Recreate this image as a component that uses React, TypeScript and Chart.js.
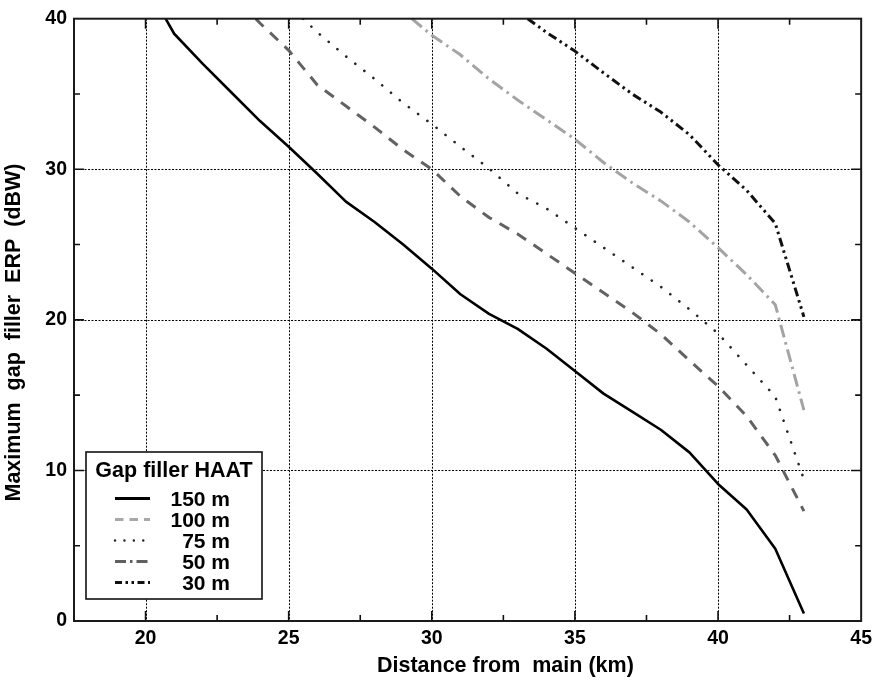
import React, { useEffect, useRef } from 'react';
import { Chart, registerables } from 'chart.js';

Chart.register(...registerables);

// ---- data ----
const seriesLabels = ['150 m', '100 m', '75 m', '50 m', '30 m'];

const dist150 = [20.7, 21, 22, 23, 24, 25, 26, 27, 28, 29, 30, 31, 32, 33, 34, 35, 36, 37, 38, 39, 40, 41, 42, 43];
const erp150 = [40, 39.0, 37.0, 35.1, 33.2, 31.5, 29.7, 27.85, 26.5, 25.0, 23.4, 21.7, 20.4, 19.4, 18.1, 16.6, 15.1, 13.9, 12.7, 11.2, 9.1, 7.4, 4.8, 0.5];

const dist100 = [23.85, 24, 25, 26, 27, 28, 29, 30, 31, 32, 33, 34, 35, 36, 37, 38, 39, 40, 41, 42, 43];
const erp100 = [40, 39.7, 37.9, 35.6, 34.2, 32.8, 31.3, 30.0, 28.2, 26.8, 25.7, 24.4, 23.1, 21.8, 20.5, 19.05, 17.3, 15.6, 13.6, 11.0, 7.3];

const dist75 = [25.5, 26, 27, 28, 29, 30, 31, 32, 33, 34, 35, 36, 37, 38, 39, 40, 41, 42, 43];
const erp75 = [40, 39.1, 37.5, 36.0, 34.4, 33.0, 31.5, 30.05, 28.4, 27.4, 26.1, 24.8, 23.5, 22.2, 20.7, 19.1, 17.0, 14.9, 9.4];

const dist50 = [29.3, 30, 31, 32, 33, 34, 35, 36, 37, 38, 39, 40, 41, 42, 43];
const erp50 = [40, 38.9, 37.6, 36.0, 34.6, 33.3, 32.0, 30.45, 29.1, 27.9, 26.5, 24.8, 23.0, 21.0, 14.0];

const dist30 = [33.35, 34, 35, 36, 37, 38, 39, 40, 41, 42, 43];
const erp30 = [40, 39.1, 37.85, 36.4, 35.0, 33.8, 32.3, 30.3, 28.6, 26.4, 20.2];

const xTickValues = [20, 25, 30, 35, 40, 45];
const yTickValues = [0, 10, 20, 30, 40];
const xGridValues = [20, 25, 30, 35, 40];
const yGridValues = [10, 20, 30];
const xMinorTicks = [22.5, 27.5, 32.5, 37.5, 42.5];
const yMinorTicks = [5, 15, 25, 35];

const xTitle = 'Distance from  main (km)';
const yTitle = 'Maximum  gap  filler  ERP  (dBW)';
const legendTitle = 'Gap filler HAAT';

// ---- styles ----
const FONT = "'Liberation Sans', Arial, Helvetica, sans-serif";

const seriesStyles = [
  { color: '#000000', width: 2.6, dash: [] as number[], cap: 'butt' },
  { color: '#626262', width: 3, dash: [11, 9], cap: 'butt' },
  { color: '#262626', width: 2.6, dash: [0.1, 11.4], cap: 'round' },
  { color: '#a4a4a4', width: 3, dash: [13, 5, 2.5, 5], cap: 'butt' },
  { color: '#111111', width: 3, dash: [9, 4, 2.5, 4, 2.5, 4], cap: 'butt' },
];

// legend samples as they appear in the reference key
const legendStyles = [
  { color: '#000000', width: 3, dash: [] as number[], cap: 'butt' },
  { color: '#a8a8a8', width: 3, dash: [8.5, 6], cap: 'butt' },
  { color: '#262626', width: 2.4, dash: [0.1, 9.3], cap: 'round' },
  { color: '#606060', width: 3, dash: [11, 4, 2.5, 4], cap: 'butt' },
  { color: '#111111', width: 3, dash: [7, 3.5, 2.5, 3.5, 2.5, 3.5], cap: 'butt' },
];

const allDist = [dist150, dist100, dist75, dist50, dist30];
const allErp = [erp150, erp100, erp75, erp50, erp30];

const gridPlugin = {
  id: 'customGrid',
  beforeDatasetsDraw(chart: any) {
    const { ctx, chartArea } = chart;
    const xs = chart.scales.x;
    const ys = chart.scales.y;
    ctx.save();
    ctx.strokeStyle = '#000';
    ctx.lineWidth = 1;
    ctx.setLineDash([2, 1.5]);
    xGridValues.forEach((v) => {
      const px = Math.round(xs.getPixelForValue(v)) + 0.5;
      ctx.beginPath();
      ctx.moveTo(px, chartArea.top);
      ctx.lineTo(px, chartArea.bottom);
      ctx.stroke();
    });
    yGridValues.forEach((v) => {
      const py = Math.round(ys.getPixelForValue(v)) + 0.5;
      ctx.beginPath();
      ctx.moveTo(chartArea.left, py);
      ctx.lineTo(chartArea.right, py);
      ctx.stroke();
    });
    ctx.restore();
  },
  afterDatasetsDraw(chart: any) {
    const { ctx, chartArea } = chart;
    const xs = chart.scales.x;
    const ys = chart.scales.y;
    const { left, right, top, bottom } = chartArea;
    ctx.save();
    ctx.setLineDash([]);
    ctx.strokeStyle = '#111';
    ctx.lineWidth = 1.6;
    const major = 10;
    const minor = 6;
    const tickX = (v: number, len: number) => {
      const px = xs.getPixelForValue(v);
      ctx.beginPath();
      ctx.moveTo(px, bottom);
      ctx.lineTo(px, bottom - len);
      ctx.moveTo(px, top);
      ctx.lineTo(px, top + len);
      ctx.stroke();
    };
    const tickY = (v: number, len: number) => {
      const py = ys.getPixelForValue(v);
      ctx.beginPath();
      ctx.moveTo(left, py);
      ctx.lineTo(left + len, py);
      ctx.moveTo(right, py);
      ctx.lineTo(right - len, py);
      ctx.stroke();
    };
    xGridValues.forEach((v) => tickX(v, major));
    xMinorTicks.forEach((v) => tickX(v, minor));
    yGridValues.forEach((v) => tickY(v, major));
    yMinorTicks.forEach((v) => tickY(v, minor));
    ctx.lineWidth = 2;
    ctx.strokeStyle = '#1a1a1a';
    ctx.strokeRect(left, top, right - left, bottom - top);
    ctx.restore();
  },
  afterDraw(chart: any) {
    const { ctx, chartArea } = chart;
    ctx.save();
    ctx.fillStyle = '#000';
    // axis titles
    ctx.font = `bold 21.5px ${FONT}`;
    ctx.textAlign = 'center';
    ctx.textBaseline = 'alphabetic';
    const xCenter = chartArea.left + (chartArea.right - chartArea.left) * 0.548;
    ctx.fillText(xTitle, xCenter, chartArea.bottom + 51);
    ctx.save();
    const yCenter = chartArea.top + (chartArea.bottom - chartArea.top) * 0.521;
    ctx.translate(20, yCenter);
    ctx.rotate(-Math.PI / 2);
    ctx.fillText(yTitle, 0, 0);
    ctx.restore();

    // legend box
    const bx = chartArea.left + 12;
    const by = chartArea.bottom - 169;
    const bw = 176;
    const bh = 147;
    ctx.fillStyle = '#fff';
    ctx.fillRect(bx, by, bw, bh);
    ctx.strokeStyle = '#111';
    ctx.lineWidth = 1.6;
    ctx.setLineDash([]);
    ctx.strokeRect(bx, by, bw, bh);
    ctx.fillStyle = '#000';
    ctx.font = `bold 21.5px ${FONT}`;
    ctx.textAlign = 'center';
    ctx.fillText(legendTitle, bx + bw / 2, by + 24.5);
    ctx.font = `bold 21px ${FONT}`;
    ctx.textAlign = 'right';
    seriesLabels.forEach((lab, i) => {
      const base = by + 54 + i * 21;
      ctx.fillStyle = '#000';
      ctx.fillText(lab, bx + 144, base);
      const st = legendStyles[i];
      ctx.save();
      ctx.strokeStyle = st.color;
      ctx.lineWidth = st.width;
      ctx.lineCap = st.cap as CanvasLineCap;
      ctx.setLineDash(st.dash);
      ctx.beginPath();
      const ly = base - 7.5;
      ctx.moveTo(bx + 29, ly);
      ctx.lineTo(bx + 64, ly);
      ctx.stroke();
      ctx.restore();
    });
    ctx.restore();
  },
};

export default function App() {
  const canvasRef = useRef<HTMLCanvasElement | null>(null);

  useEffect(() => {
    const canvas = canvasRef.current;
    if (!canvas) return;
    const datasets = seriesLabels.map((lab, i) => ({
      label: lab,
      data: allDist[i].map((d, j) => ({ x: d, y: allErp[i][j] })),
      borderColor: seriesStyles[i].color,
      borderWidth: seriesStyles[i].width,
      borderDash: seriesStyles[i].dash,
      borderCapStyle: seriesStyles[i].cap,
      borderJoinStyle: 'round',
      pointRadius: 0,
      tension: 0,
      fill: false,
    }));
    const chart = new Chart(canvas, {
      type: 'line',
      data: { datasets: datasets as any },
      options: {
        animation: false,
        responsive: false,
        devicePixelRatio: 1,
        layout: { padding: { left: 0, right: 13, top: 14, bottom: 0 } },
        plugins: { legend: { display: false }, tooltip: { enabled: false }, title: { display: false } },
        scales: {
          x: {
            type: 'linear',
            min: 17.5,
            max: 45,
            grid: { display: false, drawTicks: false },
            border: { display: false },
            afterBuildTicks: (scale: any) => {
              scale.ticks = xTickValues.map((v) => ({ value: v }));
            },
            afterFit: (scale: any) => {
              scale.height = 59;
            },
            ticks: {
              autoSkip: false,
              maxRotation: 0,
              padding: 6,
              color: '#000',
              font: { family: FONT, size: 19.5, weight: 'bold' },
            },
          },
          y: {
            type: 'linear',
            min: 0,
            max: 40,
            grid: { display: false, drawTicks: false },
            border: { display: false },
            afterBuildTicks: (scale: any) => {
              scale.ticks = yTickValues.map((v) => ({ value: v }));
            },
            afterFit: (scale: any) => {
              scale.width = 74;
            },
            ticks: {
              autoSkip: false,
              padding: 7,
              color: '#000',
              font: { family: FONT, size: 19.5, weight: 'bold' },
            },
          },
        },
      } as any,
      plugins: [gridPlugin],
    });
    return () => chart.destroy();
  }, []);

  return (
    <div style={{ position: 'fixed', left: 0, top: 0, width: 878, height: 680, background: '#fff' }}>
      <canvas ref={canvasRef} width={878} height={680} style={{ width: 878, height: 680, display: 'block' }} />
    </div>
  );
}
